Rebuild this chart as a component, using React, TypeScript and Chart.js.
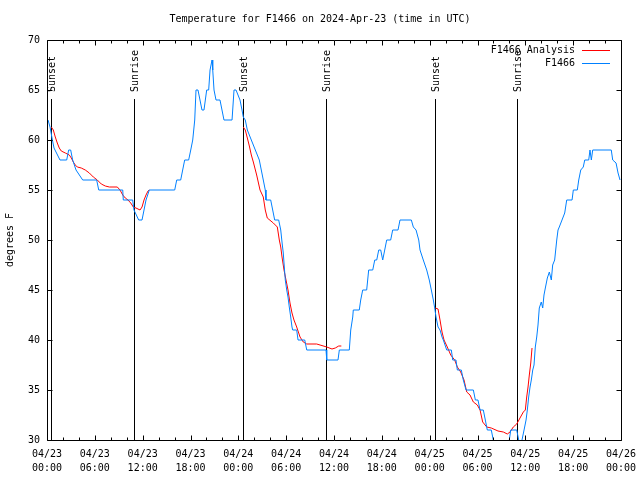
import React, { useEffect, useRef } from "react";
import { Chart, registerables } from "chart.js";

Chart.register(...registerables);

const TITLE = "Temperature for F1466 on 2024-Apr-23 (time in UTC)";
const Y_LABEL = "degrees F";

const tickHours = [0, 6, 12, 18, 24, 30, 36, 42, 48, 54, 60, 66, 72];
const tickDates = ["04/23", "04/23", "04/23", "04/23", "04/24", "04/24", "04/24", "04/24", "04/25", "04/25", "04/25", "04/25", "04/26"];
const tickTimes = ["00:00", "06:00", "12:00", "18:00", "00:00", "06:00", "12:00", "18:00", "00:00", "06:00", "12:00", "18:00", "00:00"];

const sunHours = [0.54, 10.95, 24.63, 35.04, 48.72, 59.0];
const sunLabels = ["Sunset", "Sunrise", "Sunset", "Sunrise", "Sunset", "Sunrise"];

// F1466 observations (hours since 04/23 00:00 UTC, °F)
const obsHours = [
  0.13, 0.38, 0.63, 0.88, 1.63, 2.47, 2.72, 2.97, 3.22, 3.64, 4.48, 6.23, 6.49, 9.5, 9.57, 10.75, 10.91, 11.5, 11.92, 12.17,
  12.42, 12.83, 16.02, 16.27, 16.77, 17.02, 17.27, 17.77, 18.03, 18.28, 18.53, 18.69, 18.94, 19.19, 19.44, 19.69, 19.86, 20.03, 20.28, 20.45,
  20.7, 20.79, 20.95, 21.2, 21.7, 21.95, 22.2, 23.21, 23.46, 23.71, 23.96, 24.21, 24.46, 24.62, 24.87, 25.13, 25.63, 26.13, 26.63, 26.88,
  27.13, 27.38, 27.47, 28.06, 28.31, 28.56, 29.06, 29.32, 29.49, 29.64, 29.73, 29.89, 30.07, 30.23, 30.39, 30.57, 30.73, 30.82, 31.32, 31.49,
  32.33, 32.58, 35.0, 35.09, 36.5, 36.67, 37.92, 38.1, 38.35, 38.42, 39.17, 39.35, 39.6, 40.1, 40.35, 40.86, 41.11, 41.36, 41.61, 41.86,
  42.11, 42.36, 42.61, 43.11, 43.36, 44.03, 44.28, 45.7, 45.95, 46.29, 46.63, 46.79, 47.2, 47.63, 47.95, 48.21, 48.46, 48.63, 48.8, 49.05,
  49.3, 49.55, 49.71, 50.14, 50.72, 50.89, 51.3, 51.47, 51.97, 52.22, 52.56, 53.48, 53.73, 54.06, 54.32, 54.73, 54.98, 55.23, 55.73, 55.98,
  56.19, 57.7, 57.99, 58.17, 58.92, 59.17, 59.33, 59.58, 59.84, 60.09, 60.25, 60.42, 60.59, 60.75, 60.93, 61.09, 61.25, 61.43, 61.59, 61.75,
  62.0, 62.18, 62.34, 62.51, 62.76, 63.01, 63.26, 63.43, 63.68, 63.94, 64.1, 64.26, 64.6, 64.94, 65.19, 65.86, 66.02, 66.52, 66.7, 66.95,
  67.27, 67.45, 67.95, 68.11, 68.28, 68.45, 70.78, 70.96, 71.38, 71.63, 71.88,
];
const obsTemps = [
  62, 61.3, 60.2, 59.2, 58, 58, 59, 59, 58, 57, 56, 56, 55, 55, 54, 54, 53, 52, 52, 53,
  54, 55, 55, 56, 56, 57, 58, 58, 59, 60, 62, 65, 65, 64, 63, 63, 64, 65, 65, 67,
  68, 67, 65, 64, 64, 63, 62, 62, 65, 65, 64.5, 64, 63, 62.3, 62, 61, 60, 59, 58, 57,
  56, 55, 54, 54, 53, 52, 52, 51, 49.7, 48.7, 47.7, 46, 45, 44.3, 43.3, 42.3, 41.3, 41, 41, 40,
  40, 39, 39, 38, 38, 39, 39, 41, 42.3, 43, 43, 44, 45, 45, 47, 47, 48, 48, 49, 49,
  48, 49, 50, 50, 51, 51, 52, 52, 51.3, 51, 50, 49, 48, 47, 46, 45, 44, 43.2, 42.3, 41.3,
  41, 40.3, 40, 39, 39, 38, 38, 37, 37, 36, 35, 35, 34, 34, 33, 33, 32, 31, 31, 30,
  29, 29, 30, 31, 31, 30, 29, 30, 31, 32, 33, 34.3, 35.3, 36, 37, 37.5, 39.3, 40.3, 41.5, 43.2,
  43.8, 43.2, 44.5, 45.2, 46.2, 46.8, 46, 47.5, 48, 50, 51, 51.3, 52, 52.7, 54, 54, 55, 55, 56, 57,
  57.3, 58, 58, 59, 58, 59, 59, 58, 57.7, 56.7, 56,
];

// F1466 Analysis (null = gap)
const anaHours = [
  0.54, 0.79, 1.04, 1.29, 1.54, 1.79, 2.3, 2.8, 3.05, 3.3, 3.55, 3.8, 4.3, 4.8, 5.31, 5.81, 6.31, 6.81, 7.31, 7.82,
  8.82, 9.16, 9.5, 9.82, 10.16, 10.5, 10.83, 11.16, 11.67, 11.92, 12.17, 12.42, 12.67, 12.83, 18.0,
  24.62, 24.87, 25.13, 25.38, 25.63, 25.88, 26.3, 26.72, 27.13, 27.38, 27.63, 28.39, 28.89, 29.14, 29.32, 29.48, 29.73, 29.98, 30.23, 30.48,
  30.73, 30.98, 31.32, 31.74, 32.15, 32.58, 33.83, 34.25, 35.09, 35.75, 36.16, 36.59, 36.92, 42.0,
  48.71, 49.05, 49.3, 49.55, 49.8, 50.21, 50.64, 51.14, 51.47, 51.89, 52.31, 52.65, 53.06, 53.48, 53.98, 54.32, 54.65, 55.16, 55.73, 56.57,
  57.24, 57.74, 58.08, 58.49, 58.92, 59.33, 59.75, 60.0, 60.17, 60.34, 60.5, 60.68, 60.84,
];
const anaTemps = [
  61.3, 61, 60.3, 59.7, 59.2, 58.9, 58.7, 58.5, 58.2, 57.8, 57.5, 57.3, 57.2, 57, 56.7, 56.3, 56, 55.6, 55.4, 55.3,
  55.3, 55, 54.5, 54.2, 54, 53.7, 53.3, 53.2, 53, 53.3, 54, 54.5, 54.9, 55, null,
  61.3, 61, 60.2, 59.4, 58.5, 57.8, 56.5, 55, 54.3, 53, 52.2, 51.7, 51.3, 50, 49.3, 48.3, 47, 46, 45, 43.7,
  42.7, 42, 41.3, 40.3, 39.8, 39.6, 39.6, 39.5, 39.3, 39.1, 39.2, 39.4, 39.4, null,
  43.2, 43.1, 42, 40.8, 40, 39.3, 38.5, 38, 37.3, 36.8, 36, 34.8, 34.5, 33.8, 33.5, 33, 31.8, 31.3, 31.2, 30.9,
  30.8, 30.6, 30.8, 31.3, 31.6, 32.2, 32.8, 33, 34.3, 35.3, 36.5, 37.7, 39.2,
];

const FONT = "'DejaVu Sans Mono', 'Liberation Mono', monospace";
const RED = "#ff0000";
const BLUE = "#0080ff";

const decorPlugin = {
  id: "gnuplotDecor",
  beforeDatasetsDraw(chart: any) {
    const { ctx, chartArea, scales } = chart;
    const xs = scales.x;
    ctx.save();
    ctx.strokeStyle = "#000";
    ctx.lineWidth = 1;
    ctx.fillStyle = "#000";
    ctx.font = `10px ${FONT}`;
    sunHours.forEach((h, i) => {
      const px = Math.round(xs.getPixelForValue(h)) + 0.5;
      ctx.beginPath();
      ctx.moveTo(px, chartArea.top + 59);
      ctx.lineTo(px, chartArea.bottom);
      ctx.stroke();
      ctx.save();
      ctx.translate(px + 1, chartArea.top + 52);
      ctx.rotate(-Math.PI / 2);
      ctx.textAlign = "left";
      ctx.textBaseline = "middle";
      ctx.fillText(sunLabels[i], 0, 0);
      ctx.restore();
    });
    ctx.restore();
  },
  afterDraw(chart: any) {
    const { ctx, chartArea, scales } = chart;
    const xs = scales.x;
    const ys = scales.y;
    const L = chartArea.left + 0.5;
    const R = chartArea.right + 0.5;
    const T = chartArea.top + 0.5;
    const B = chartArea.bottom + 0.5;
    ctx.save();
    ctx.strokeStyle = "#000";
    ctx.lineWidth = 1;
    ctx.beginPath();
    ctx.rect(L, T, R - L, B - T);
    for (let v = 30; v <= 70; v += 5) {
      const py = Math.round(ys.getPixelForValue(v)) + 0.5;
      ctx.moveTo(L, py);
      ctx.lineTo(L + 5, py);
      ctx.moveTo(R, py);
      ctx.lineTo(R - 5, py);
    }
    for (let h = 0; h <= 72; h += 2) {
      const px = Math.round(xs.getPixelForValue(h)) + 0.5;
      const len = h % 6 === 0 ? 5 : 3;
      ctx.moveTo(px, B);
      ctx.lineTo(px, B - len);
      ctx.moveTo(px, T);
      ctx.lineTo(px, T + len);
    }
    ctx.stroke();

    ctx.fillStyle = "#000";
    ctx.font = `10px ${FONT}`;
    ctx.textAlign = "center";
    ctx.textBaseline = "middle";
    ctx.fillText(TITLE, chart.width / 2, 19);

    ctx.save();
    ctx.translate(10, (chartArea.top + chartArea.bottom) / 2);
    ctx.rotate(-Math.PI / 2);
    ctx.fillText(Y_LABEL, 0, 0);
    ctx.restore();

    const items = [
      { label: chart.data.datasets[0].label, color: RED },
      { label: chart.data.datasets[1].label, color: BLUE },
    ];
    items.forEach((it, i) => {
      const y = chartArea.top + 9.5 + i * 13;
      ctx.textAlign = "right";
      ctx.fillStyle = "#000";
      ctx.fillText(it.label, chartArea.right - 46, y + 0.5);
      ctx.strokeStyle = it.color;
      ctx.beginPath();
      ctx.moveTo(chartArea.right - 39, Math.round(y) + 0.5);
      ctx.lineTo(chartArea.right - 11, Math.round(y) + 0.5);
      ctx.stroke();
    });
    ctx.restore();
  },
};

export default function App() {
  const canvasRef = useRef<HTMLCanvasElement | null>(null);

  useEffect(() => {
    if (!canvasRef.current) return;
    const redData = anaHours.map((h, i) => ({ x: h, y: anaTemps[i] }));
    const blueData = obsHours.map((h, i) => ({ x: h, y: obsTemps[i] }));
    const chart = new Chart(canvasRef.current, {
      type: "line",
      data: {
        datasets: [
          {
            label: "F1466 Analysis",
            data: redData as any,
            borderColor: RED,
            backgroundColor: RED,
            borderWidth: 1,
            pointRadius: 0,
            spanGaps: false,
            tension: 0,
            order: 2,
          },
          {
            label: "F1466",
            data: blueData as any,
            borderColor: BLUE,
            backgroundColor: BLUE,
            borderWidth: 1,
            pointRadius: 0,
            tension: 0,
            order: 1,
          },
        ],
      },
      options: {
        responsive: false,
        animation: false,
        events: [],
        layout: { padding: { top: 40, right: 19, left: 0, bottom: 0 } },
        scales: {
          x: {
            type: "linear",
            min: 0,
            max: 72,
            afterBuildTicks: (scale: any) => {
              scale.ticks = tickHours.map((v) => ({ value: v }));
            },
            afterFit: (scale: any) => {
              scale.height = 40;
              scale.paddingLeft = 0;
              scale.paddingRight = 0;
            },
            grid: { display: false, drawTicks: false },
            border: { display: false },
            ticks: {
              autoSkip: false,
              maxRotation: 0,
              padding: 7,
              color: "#000",
              font: { family: FONT, size: 10, lineHeight: 1.4 },
              callback: (_v: any, i: number) => [tickDates[i], tickTimes[i]],
            },
          },
          y: {
            min: 30,
            max: 70,
            afterFit: (scale: any) => {
              scale.width = 47;
              scale.paddingTop = 0;
              scale.paddingBottom = 0;
            },
            grid: { display: false, drawTicks: false },
            border: { display: false },
            ticks: {
              stepSize: 5,
              padding: 7,
              color: "#000",
              font: { family: FONT, size: 10 },
            },
          },
        },
        plugins: {
          legend: { display: false },
          title: { display: false },
          tooltip: { enabled: false },
        },
      },
      plugins: [decorPlugin],
    });
    return () => chart.destroy();
  }, []);

  return (
    <div style={{ position: "absolute", left: 0, top: 0, width: 640, height: 480, background: "#fff" }}>
      <canvas ref={canvasRef} width={640} height={480} style={{ display: "block" }} />
    </div>
  );
}
